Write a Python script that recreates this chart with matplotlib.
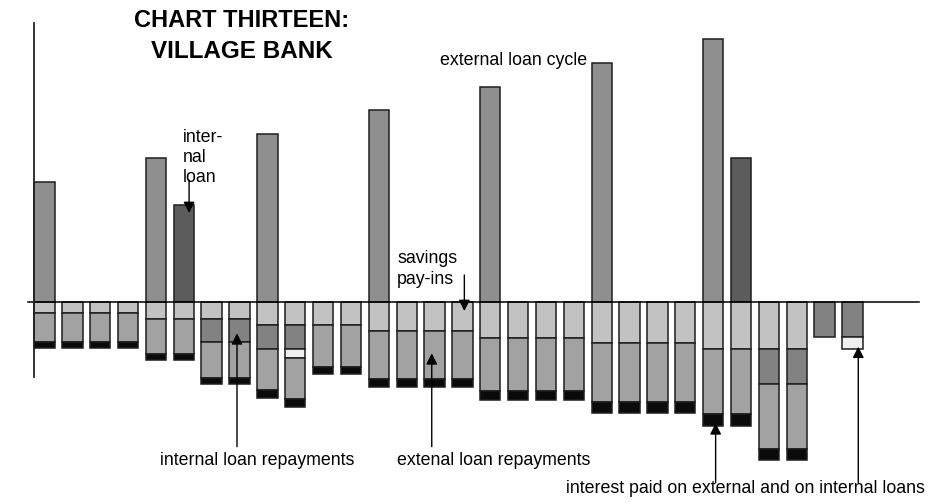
import numpy as np
from matplotlib import pyplot as plt

plt.rcParams['font.family'] = ['Liberation Sans', 'DejaVu Sans']

# 30 periods, values (arbitrary money units)
externalLoan = [12.0, 0, 0, 0, 14.4, 0, 0, 0, 16.8, 0, 0, 0, 19.2, 0, 0, 0,
                21.5, 0, 0, 0, 23.9, 0, 0, 0, 26.3, 0, 0, 0, 0, 0]
internalLoan = [0, 0, 0, 0, 0, 9.7, 0, 0, 0, 0, 0, 0, 0, 0, 0, 0,
                0, 0, 0, 0, 0, 0, 0, 0, 0, 14.4, 0, 0, 0, 0]

# outflows, stacked downwards in this order
savings = [1.1, 1.1, 1.1, 1.1, 1.7, 1.7, 1.7, 1.7, 2.3, 2.3, 2.3, 2.3, 2.9, 2.9, 2.9, 2.9,
           3.6, 3.6, 3.6, 3.6, 4.1, 4.1, 4.1, 4.1, 4.7, 4.7, 4.7, 4.7, 0, 0]
internalRepay = [0, 0, 0, 0, 0, 0, 2.3, 2.3, 2.4, 2.4, 0, 0, 0, 0, 0, 0,
                 0, 0, 0, 0, 0, 0, 0, 0, 0, 0, 3.5, 3.5, 3.5, 3.5]
internalInterest = [0, 0, 0, 0, 0, 0, 0, 0, 0, 0.9, 0, 0, 0, 0, 0, 0,
                    0, 0, 0, 0, 0, 0, 0, 0, 0, 0, 0, 0, 0, 1.2]
externalRepay = [2.9, 2.9, 2.9, 2.9, 3.5, 3.5, 3.6, 3.6, 4.1, 4.1, 4.2, 4.2, 4.8, 4.8, 4.8, 4.8,
                 5.3, 5.3, 5.3, 5.3, 5.9, 5.9, 5.9, 5.9, 6.5, 6.5, 6.5, 6.5, 0, 0]
externalInterest = [0.6, 0.6, 0.6, 0.6, 0.6, 0.6, 0.6, 0.6, 0.8, 0.8, 0.7, 0.7, 0.8, 0.8, 0.8, 0.8,
                    0.9, 0.9, 0.9, 0.9, 1.1, 1.1, 1.1, 1.1, 1.2, 1.2, 1.1, 1.1, 0, 0]

WIDTH = 0.73
EDGE = '#1e1e1e'
FS = 12.8

fig = plt.figure(figsize=(9.32, 5.04), dpi=100)
ax = fig.add_axes([0, 0, 1, 1])
ax.set_xlim(-1.597, 31.856)
ax.set_ylim(-20.23, 30.17)
ax.axis('off')

x = np.arange(len(savings))


def drawBars(vals, bottom, color, up=True):
    vals = np.array(vals, dtype=float)
    keep = vals > 0
    h = vals if up else -vals
    ax.bar(x[keep], h[keep], bottom=bottom[keep], width=WIDTH, color=color,
           edgecolor=EDGE, linewidth=1.1, zorder=2)


zero = np.zeros(len(x))
drawBars(externalLoan, zero, '#8f8f8f')
drawBars(internalLoan, zero, '#5c5c5c')

cum = np.zeros(len(x))
for vals, color in [(savings, '#c2c2c2'), (internalRepay, '#828282'),
                    (internalInterest, '#efefef'), (externalRepay, '#a2a2a2'),
                    (externalInterest, '#0a0a0a')]:
    drawBars(vals, -cum, color, up=False)
    cum += np.array(vals)

# axes lines
ax.plot([-0.6, 31.39], [0, 0], color='black', lw=1.1, zorder=3)
ax.plot([-WIDTH / 2, -WIDTH / 2], [27.9, -7.5], color='#222222', lw=1.3, zorder=3)

# title
ax.text(7.09, 27.47, 'CHART THIRTEEN:', fontsize=17, fontweight='bold', ha='center', va='baseline')
ax.text(7.09, 24.37, 'VILLAGE BANK', fontsize=17.5, fontweight='bold', ha='center', va='baseline')

# labels
for k, line in enumerate(['inter-', 'nal', 'loan']):
    ax.text(4.96, 15.97 - 2.0 * k, line, fontsize=FS, va='baseline')
ax.text(14.2, 23.67, 'external loan cycle', fontsize=FS, va='baseline')
ax.text(12.66, 3.84, 'savings', fontsize=FS, va='baseline')
ax.text(12.66, 1.74, 'pay-ins', fontsize=FS, va='baseline')
ax.text(4.15, -16.33, 'internal loan repayments', fontsize=FS, va='baseline')
ax.text(12.66, -16.33, 'extenal loan repayments', fontsize=FS, va='baseline')
ax.text(18.71, -19.13, 'interest paid on external and on internal loans', fontsize=FS, va='baseline')

arrows = [((5.19, 12.17), (5.19, 8.87)),
          ((15.07, 2.67), (15.07, -0.93)),
          ((6.91, -14.5), (6.91, -3.16)),
          ((13.9, -14.5), (13.9, -5.16)),
          ((24.09, -18.1), (24.09, -12.16)),
          ((29.21, -18.1), (29.21, -4.5))]
for start, tip in arrows:
    ax.annotate('', xy=tip, xytext=start, zorder=4,
                arrowprops=dict(arrowstyle='-|>,head_length=0.55,head_width=0.28',
                                mutation_scale=12, color='black', lw=1.0,
                                shrinkA=0, shrinkB=0))

plt.savefig('out.png', dpi=100)
